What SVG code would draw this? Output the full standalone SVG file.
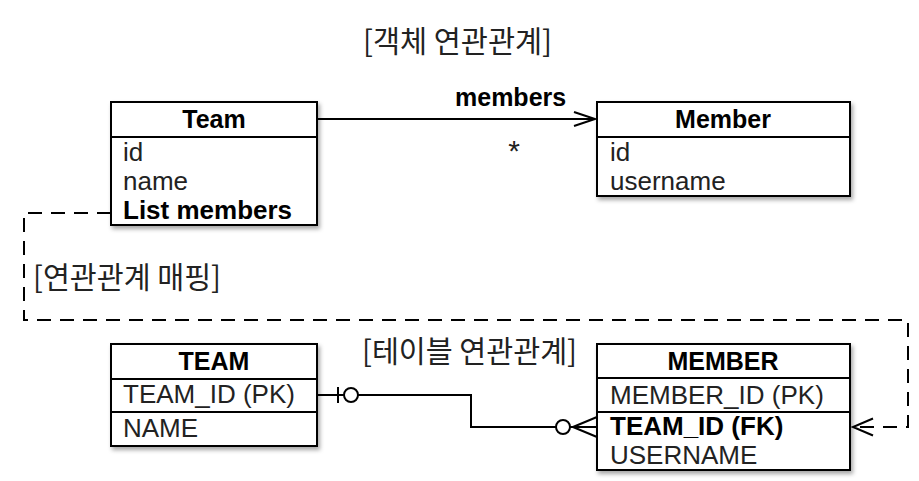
<svg xmlns="http://www.w3.org/2000/svg" width="919" height="481" viewBox="0 0 919 481">
<defs>
<filter id="sh" x="-10%" y="-10%" width="130%" height="130%">
<feDropShadow dx="2" dy="3" stdDeviation="2" flood-color="#000" flood-opacity="0.35"/>
</filter>
<style>
.box{fill:#fff;stroke:#000;stroke-width:2;filter:url(#sh)}
.div{stroke:#000;stroke-width:2}
.hd{font-family:"Liberation Sans",Arial,sans-serif;font-size:25px;font-weight:bold;fill:#000;text-anchor:middle}
.tx{font-family:"Liberation Sans",Arial,sans-serif;font-size:26px;fill:#222}
.b{font-weight:bold;fill:#000}
.ko{font-family:"Noto Sans CJK KR","Noto Sans CJK SC",sans-serif;font-size:30px;fill:#222}
.ln{fill:none;stroke:#000;stroke-width:2}
.dash{fill:none;stroke:#000;stroke-width:2;stroke-dasharray:14 9}
</style>
</defs>
<rect width="919" height="481" fill="#fff"/>

<text class="ko" x="363" y="52" textLength="189" lengthAdjust="spacingAndGlyphs">[객체 연관관계]</text>
<text class="ko" x="33" y="288" textLength="188" lengthAdjust="spacingAndGlyphs">[연관관계 매핑]</text>
<text class="ko" x="362" y="362" textLength="215" lengthAdjust="spacingAndGlyphs">[테이블 연관관계]</text>

<g id="connectors">
<path class="dash" d="M111,213 H24 V320 H908 V427 H855"/>
<polyline class="ln" points="873,418.5 853,427 873,435.5"/>
<path class="ln" d="M317,119 H595"/>
<polyline class="ln" points="574,112 595,119 574,126"/>
<text class="tx b" x="455" y="106" style="font-size:25px">members</text>
<text class="tx" x="514" y="161" text-anchor="middle" style="font-size:30px">*</text>
<path class="ln" d="M317,395 H471 V427 H597"/>
<path class="ln" d="M338,387 V403"/>
<circle cx="351" cy="395" r="7" fill="#fff" stroke="#000" stroke-width="2"/>
<circle cx="563" cy="427" r="7" fill="#fff" stroke="#000" stroke-width="2"/>
<path class="ln" d="M573,427 L597,417 M573,427 L597,437"/>
</g>

<g id="Team">
<rect class="box" x="111" y="102" width="206" height="123"/>
<line class="div" x1="111" y1="137" x2="317" y2="137"/>
<text class="hd" x="214" y="128">Team</text>
<text class="tx" x="123" y="161">id</text>
<text class="tx" x="123" y="190">name</text>
<text class="tx b" x="123" y="219">List members</text>
</g>

<g id="Member">
<rect class="box" x="597" y="102" width="253" height="94"/>
<line class="div" x1="597" y1="137" x2="850" y2="137"/>
<text class="hd" x="723" y="128">Member</text>
<text class="tx" x="610" y="161">id</text>
<text class="tx" x="610" y="190">username</text>
</g>

<g id="TEAM">
<rect class="box" x="111" y="344" width="206" height="102"/>
<line class="div" x1="111" y1="379" x2="317" y2="379"/>
<line class="div" x1="111" y1="412" x2="317" y2="412"/>
<text class="hd" x="214" y="370">TEAM</text>
<text class="tx" x="123" y="403">TEAM_ID (PK)</text>
<text class="tx" x="123" y="437">NAME</text>
</g>

<g id="MEMBER">
<rect class="box" x="597" y="344" width="253" height="126"/>
<line class="div" x1="597" y1="378" x2="850" y2="378"/>
<line class="div" x1="597" y1="412" x2="850" y2="412"/>
<text class="hd" x="723" y="370">MEMBER</text>
<text class="tx" x="610" y="404">MEMBER_ID (PK)</text>
<text class="tx b" x="610" y="435">TEAM_ID (FK)</text>
<text class="tx" x="610" y="464">USERNAME</text>
</g>
</svg>
